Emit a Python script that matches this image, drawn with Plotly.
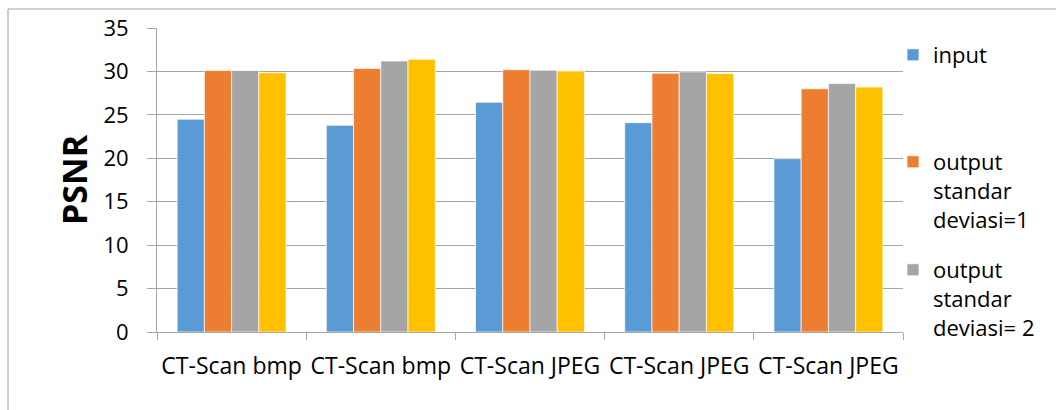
import plotly.graph_objects as go

# Image categories along the x axis (labels repeat, so bars sit on numeric slots)
categories = ["CT-Scan bmp", "CT-Scan bmp", "CT-Scan JPEG", "CT-Scan JPEG", "CT-Scan JPEG"]
slots = list(range(len(categories)))

# PSNR values per series
psnr_input = [24.5, 23.8, 26.45, 24.1, 19.95]
psnr_sd1 = [30.1, 30.35, 30.2, 29.8, 28.0]
psnr_sd2 = [30.1, 31.2, 30.15, 29.95, 28.6]
psnr_sd3 = [29.85, 31.4, 30.05, 29.75, 28.2]

y_ticks = [0, 5, 10, 15, 20, 25, 30, 35]

FONT = "Open Sans"
GRID = "#a6a6a6"
W, H = 1056, 410
ML, MR, MT, MB = 157, 153, 28, 78
PW, PH = W - ML - MR, H - MT - MB


def px_x(px):
    return (px - ML) / PW


def px_y(py):
    return (H - MB - py) / PH


series = [
    ("input", psnr_input, "#5B9BD5", "legend"),
    ("output<br>standar<br>deviasi=1", psnr_sd1, "#ED7D31", "legend2"),
    ("output<br>standar<br>deviasi= 2", psnr_sd2, "#A5A5A5", "legend3"),
    ("output standar deviasi= 3", psnr_sd3, "#FFC000", None),
]

fig = go.Figure()
for name, vals, color, leg in series:
    fig.add_trace(go.Bar(
        x=slots, y=vals, name=name,
        marker=dict(color=color, line=dict(color="rgba(255,255,255,0.7)", width=1)),
        showlegend=leg is not None,
        legend=leg if leg else "legend",
    ))

legend_style = dict(
    font=dict(family=FONT, size=22, color="#000000"),
    bgcolor="rgba(0,0,0,0)",
    xanchor="left", yanchor="top",
    valign="top",
    itemwidth=30,
)

fig.update_layout(
    width=W, height=H,
    margin=dict(l=ML, r=MR, t=MT, b=MB, pad=0),
    paper_bgcolor="white", plot_bgcolor="white",
    barmode="group", bargap=0.27, bargroupgap=0,
    font=dict(family=FONT, size=22, color="#000000"),
    legend=dict(x=px_x(893), y=px_y(34), **legend_style),
    legend2=dict(x=px_x(893), y=px_y(141), **legend_style),
    legend3=dict(x=px_x(893), y=px_y(249), **legend_style),
    xaxis=dict(
        range=[-0.5, len(categories) - 0.5],
        tickvals=slots, ticktext=categories,
        ticks="", showgrid=False,
        showline=True, linecolor=GRID, linewidth=1,
        tickfont=dict(family=FONT, size=23),
        ticklabelstandoff=13,
        minor=dict(tick0=0.5, dtick=1, ticks="outside", ticklen=7,
                   tickcolor=GRID, tickwidth=1, showgrid=False),
        zeroline=False, fixedrange=True,
    ),
    yaxis=dict(
        range=[0, 35], tickvals=y_ticks,
        ticks="outside", ticklen=9, tickcolor=GRID, tickwidth=1,
        showgrid=True, gridcolor=GRID, gridwidth=1,
        showline=True, linecolor=GRID, linewidth=1,
        zeroline=False,
        tickfont=dict(family=FONT, size=22),
        ticklabelstandoff=14,
        title=dict(text="<b>PSNR</b>", font=dict(family=FONT, size=34), standoff=5),
        fixedrange=True,
    ),
    shapes=[
        # chart-area frame (top and left edges fall inside the canvas)
        dict(type="rect", xref="paper", yref="paper",
             x0=px_x(8), x1=px_x(W + 20), y0=px_y(H + 20), y1=px_y(9),
             line=dict(color="#a0a0a0", width=1), fillcolor="rgba(0,0,0,0)",
             layer="below"),
    ],
)

fig.write_html("out.html")
